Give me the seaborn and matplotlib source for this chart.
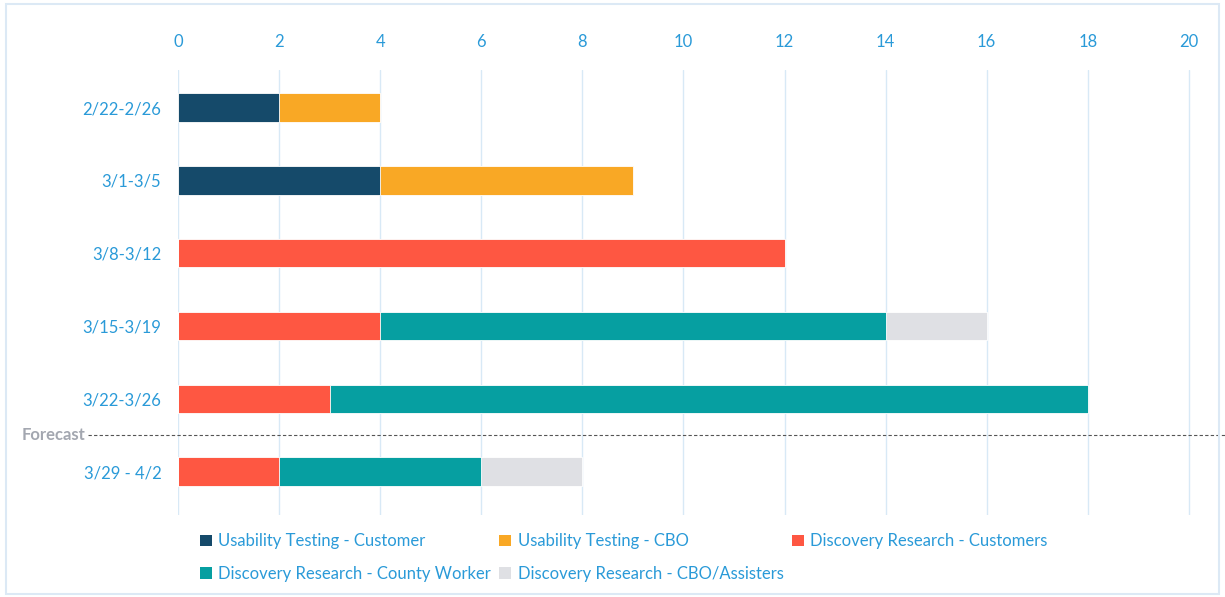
import matplotlib.pyplot as plt
import matplotlib.transforms as mtransforms
from matplotlib.patches import Rectangle, Patch
import pandas as pd
import seaborn as sns

weeks = ["2/22-2/26", "3/1-3/5", "3/8-3/12", "3/15-3/19", "3/22-3/26", "3/29 - 4/2"]
series = [
    "Usability Testing - Customer",
    "Usability Testing - CBO",
    "Discovery Research - Customers",
    "Discovery Research - County Worker",
    "Discovery Research - CBO/Assisters",
]
ut_customer = [2, 4, 0, 0, 0, 0]
ut_cbo = [2, 5, 0, 0, 0, 0]
dr_customers = [0, 0, 12, 4, 3, 2]
dr_county = [0, 0, 0, 10, 15, 4]
dr_cbo_assisters = [0, 0, 0, 2, 0, 2]
colors = ["#154a6a", "#f9a825", "#fe5742", "#069fa1", "#dfe0e4"]

BLUE = "#2a9ad8"
GRID = "#d8e9f6"

df = pd.DataFrame(
    {s: v for s, v in zip(series, [ut_customer, ut_cbo, dr_customers, dr_county, dr_cbo_assisters])},
    index=weeks,
)
cum = df.cumsum(axis=1)

sns.set_style("white")
plt.rcParams["font.family"] = ["Lato", "DejaVu Sans"]

fig = plt.figure(figsize=(12.25, 5.97), dpi=100)
ax = fig.add_axes([0.1453, 0.137, 0.8417, 0.746])

# stacked bars: draw cumulative totals from the last series backwards
for s, c in reversed(list(zip(series, colors))):
    sns.barplot(x=cum[s].values, y=weeks, color=c, orient="h", width=0.39,
                ax=ax, saturation=1, edgecolor="white", linewidth=0.6)

ax.set_xlim(0, 20.4)
ax.set_ylim(5.6, -0.52)
ax.set_xticks(range(0, 21, 2))
ax.xaxis.tick_top()
ax.tick_params(axis="both", length=0, labelsize=12, colors=BLUE, pad=12)
ax.tick_params(axis="x", pad=14)
ax.grid(axis="x", color=GRID, linewidth=1)
ax.grid(axis="y", visible=False)
ax.set_axisbelow(True)
for sp in ax.spines.values():
    sp.set_visible(False)
ax.set_xlabel("")
ax.set_ylabel("")

# forecast divider
trans = mtransforms.blended_transform_factory(fig.transFigure, ax.transData)
ax.plot([88 / 1225, 1.0], [4.5, 4.5], transform=trans, color="#555555",
        linestyle=(0, (3, 2)), linewidth=0.8, clip_on=False)
ax.text(85 / 1225, 4.5, "Forecast", transform=trans, ha="right", va="center",
        color="#a3a7b0", fontsize=12, fontweight="bold")

# legend, filled so that rows read left to right
order = [0, 3, 1, 4, 2]
handles = [Patch(facecolor=colors[i], edgecolor="none") for i in order]
labels = [series[i] for i in order]
fig.legend(handles, labels, ncol=3, loc="lower left", bbox_to_anchor=(0.151, 0.0),
           frameon=False, fontsize=12, labelcolor=BLUE, handlelength=0.7,
           handleheight=0.7, handletextpad=0.4, columnspacing=0.5, labelspacing=1.0)

fig.add_artist(Rectangle((0.005, 0.005), 0.99, 0.988, transform=fig.transFigure,
                         fill=False, edgecolor="#dce9f5", linewidth=1.5))

fig.savefig("out.png", dpi=100)
